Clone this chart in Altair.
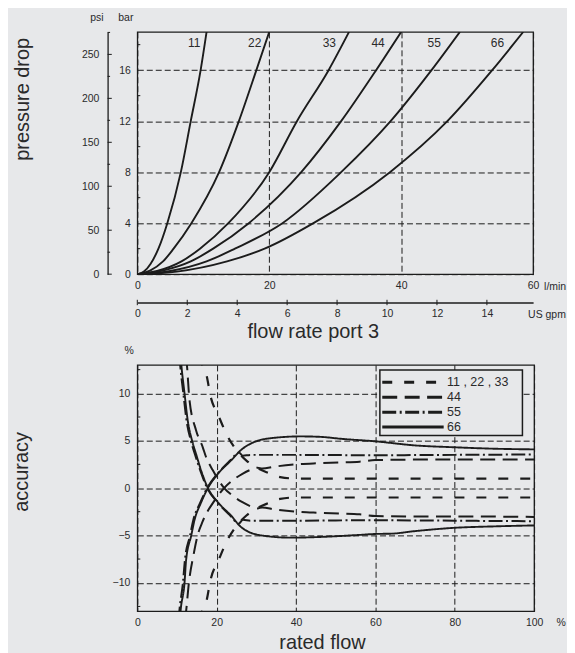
import altair as alt
import pandas as pd

BG = "#e7e8ea"
INK = "#1c1c1c"
TXT = "#2a2a2a"
FONT = "Liberation Sans"

# ---------------- top panel: pressure drop (bar) vs flow (l/min) ----------------
curve_names = ["11", "22", "33", "44", "55", "66"]
flow_11 = [0, 1.0, 2.0, 3.2, 4.55, 6.6, 8.1, 9.6, 10.5]
dp_11 = [0, 0.2, 0.8, 2, 4, 8, 12, 16, 19]
flow_22 = [0, 2.0, 3.9, 5.5, 8.2, 12.4, 15.4, 18.05, 20.0]
dp_22 = [0, 0.3, 1.0, 2, 4, 8, 12, 16, 19]
flow_33 = [0, 3.0, 6.7, 9.5, 13.8, 20.0, 24.2, 29.0, 32.1]
dp_33 = [0, 0.25, 1.0, 2, 4, 8, 12, 16, 19]
flow_44 = [0, 4.0, 8.1, 11.5, 16.9, 24.85, 30.9, 36.2, 40.0]
dp_44 = [0, 0.3, 1.0, 2, 4, 8, 12, 16, 19]
flow_55 = [0, 5.0, 10.5, 14.8, 22.0, 30.9, 38.4, 44.6, 48.9]
dp_55 = [0, 0.25, 1.0, 2, 4, 8, 12, 16, 19]
flow_66 = [0, 6.0, 13.6, 19.3, 26.7, 38.3, 47.0, 53.8, 58.5]
dp_66 = [0, 0.2, 1.0, 2, 4, 8, 12, 16, 19]

label_flow = [8.64, 17.8, 29.1, 36.5, 45.0, 54.6]
label_dp = [18.1, 18.1, 18.1, 18.1, 18.1, 18.1]

lpm_ticks = [0, 20, 40, 60]
bar_ticks = [0, 4, 8, 12, 16]
bar_minor = [2, 6, 10, 14, 18]
psi_ticks = [0, 50, 100, 150, 200, 250]
psi_minor = [25, 75, 125, 175, 225, 275]
gpm_ticks = [0, 2, 4, 6, 8, 10, 12, 14]

# ---------------- bottom panel: accuracy (%) vs rated flow (%) ----------------
acc_labels = ["11 , 22 , 33", "44", "55", "66"]

s66_up_x = [10.7, 10.9, 11.9, 12.3, 13.6, 14.4, 16.0, 17.8, 20.3, 23.6, 26.1, 29.5, 34.5, 41.2, 46.2, 51.3, 60, 70, 80, 90, 100]
s66_up_y = [-14, -13, -10, -7.6, -5.0, -3.4, -1.6, 0, 1.5, 2.9, 4.0, 4.86, 5.3, 5.45, 5.4, 5.2, 4.93, 4.5, 4.3, 4.15, 4.08]
s66_dn_x = [10.9, 11.1, 11.9, 12.7, 13.8, 14.8, 16.2, 17.8, 20.3, 23.6, 26.1, 31.2, 38.7, 46, 51, 56, 60, 64, 70, 80, 90, 100]
s66_dn_y = [14, 13, 10, 7.15, 5.0, 3.6, 1.7, 0, -1.5, -2.9, -4.1, -5.0, -5.24, -5.17, -5.07, -4.95, -4.85, -4.82, -4.55, -4.2, -4.05, -3.95]

s55_up_x = [10.4, 10.6, 11.5, 12.0, 13.3, 14.1, 15.8, 17.6, 20.2, 23.4, 25.6, 26.6, 28.5, 35, 40, 50, 60, 70, 80, 90, 100]
s55_up_y = [-14, -13, -10, -7.6, -5.0, -3.4, -1.6, 0, 1.5, 2.9, 3.75, 3.4, 3.5, 3.5, 3.5, 3.48, 3.45, 3.48, 3.5, 3.52, 3.55]
s55_dn_x = [10.6, 10.8, 11.6, 12.4, 13.5, 14.5, 16.0, 17.6, 20.2, 23.4, 25.6, 26.6, 28.5, 35, 40, 50, 60, 70, 80, 90, 100]
s55_dn_y = [14, 13, 10, 7.15, 5.0, 3.6, 1.7, 0, -1.5, -2.9, -3.75, -3.35, -3.45, -3.45, -3.45, -3.42, -3.4, -3.42, -3.45, -3.48, -3.5]

s44_up_x = [12.0, 12.3, 13.0, 14.2, 15.2, 16.5, 19.5, 21.9, 24.0, 26.5, 29.0, 30.3, 31.5, 34.5, 40, 46, 51, 56, 60, 70, 80, 100]
s44_up_y = [-14, -13, -10, -7, -5, -3.5, -1.3, 0, 0.8, 1.5, 2.0, 2.15, 2.05, 2.25, 2.5, 2.62, 2.7, 2.78, 2.95, 3.0, 3.0, 3.0]
s44_dn_x = [12.2, 12.5, 13.1, 14.8, 16.5, 17.3, 19.0, 21.9, 24.0, 26.5, 29.0, 30.3, 31.5, 34.5, 40, 46, 51, 56, 60, 70, 80, 100]
s44_dn_y = [14, 13, 9.5, 6.1, 4.3, 3.3, 1.9, 0, -0.8, -1.5, -2.0, -2.15, -2.05, -2.25, -2.5, -2.62, -2.7, -2.78, -2.95, -3.0, -3.0, -3.05]

s11_dn_x = [16.0, 16.3, 17.5, 18.4, 20.5, 22.7, 25.0, 27.5, 30.3, 33, 36, 40, 50, 60, 80, 100]
s11_dn_y = [14, 13, 11.8, 9.8, 7.6, 5.5, 4.0, 2.9, 2.1, 1.6, 1.15, 1.0, 1.0, 1.0, 1.0, 1.0]
s11_up_x = [16.0, 16.3, 17.5, 18.4, 20.5, 22.7, 25.0, 27.5, 30.3, 33, 36, 40, 50, 60, 80, 100]
s11_up_y = [-14, -13, -11.8, -9.8, -7.6, -5.5, -4.0, -2.9, -2.1, -1.6, -1.15, -1.0, -1.0, -1.0, -1.0, -1.0]

pct_ticks = [0, 20, 40, 60, 80, 100]
acc_ticks = [-10, -5, 0, 5, 10]
acc_minor = [-12.5, -7.5, -2.5, 2.5, 7.5, 12.5]

DASH_S = [10, 12]
DASH_L = [15, 7.5]
DASH_DD = [14, 3.5, 2, 3.5]

# ---------------- helpers ----------------
def series(name, xs, ys):
    return pd.DataFrame({"x": xs, "y": ys, "s": name})


def note(text, x, y, size=10.5, angle=0, align="center"):
    return alt.Chart(pd.DataFrame({"t": [text]})).mark_text(
        font=FONT, fontSize=size, color=TXT, angle=angle, align=align, baseline="middle"
    ).encode(x=alt.value(x), y=alt.value(y), text="t:N")


# ---------------- top chart ----------------
W1, H1 = 397, 243
lpm_sc = alt.Scale(domain=[0, 60], nice=False)
bar_sc = alt.Scale(domain=[0, 19], nice=False)
psi_sc = alt.Scale(domain=[0, 19 * 14.5038], nice=False)
gpm_sc = alt.Scale(domain=[0, 60 / 3.78541], nice=False)

top_df = pd.concat([
    series("11", flow_11, dp_11), series("22", flow_22, dp_22), series("33", flow_33, dp_33),
    series("44", flow_44, dp_44), series("55", flow_55, dp_55), series("66", flow_66, dp_66),
])

top_curves = alt.Chart(top_df).mark_line(clip=True, color=INK, strokeWidth=1.9, interpolate="monotone").encode(
    x=alt.X("x:Q", scale=lpm_sc, axis=alt.Axis(orient="bottom", values=lpm_ticks, grid=True, ticks=False,
                                               domain=False, labelPadding=11.7, labelBaseline="middle", title=None)),
    y=alt.Y("y:Q", scale=bar_sc, axis=alt.Axis(orient="left", values=bar_ticks, grid=True, ticks=False,
                                               domain=False, labelPadding=7, title=None)),
    detail="s:N",
)

top_labels = alt.Chart(pd.DataFrame({"x": label_flow, "y": label_dp, "t": curve_names})).mark_text(
    font=FONT, fontSize=12, color=TXT
).encode(
    x=alt.X("x:Q", scale=lpm_sc, axis=None),
    y=alt.Y("y:Q", scale=bar_sc, axis=None),
    text="t:N",
)

bar_minor_ticks = alt.Chart(pd.DataFrame({"v": bar_minor})).mark_rule(color=INK, strokeWidth=1).encode(
    y=alt.Y("v:Q", scale=bar_sc, axis=None), x=alt.value(0), x2=alt.value(3)
)

psi_major = alt.Chart(pd.DataFrame({"v": psi_ticks})).mark_rule(color=INK, strokeWidth=1).encode(
    y=alt.Y("v:Q", scale=psi_sc, axis=alt.Axis(orient="left", offset=29.8, values=psi_ticks, ticks=False,
                                               grid=False, domain=True, domainColor=INK, domainWidth=1.3,
                                               labelPadding=8.7, title=None)),
    x=alt.value(-29.8), x2=alt.value(-25.6),
)
psi_minor_ticks = alt.Chart(pd.DataFrame({"v": psi_minor})).mark_rule(color=INK, strokeWidth=1).encode(
    y=alt.Y("v:Q", scale=psi_sc, axis=None), x=alt.value(-29.8), x2=alt.value(-27.3)
)

gpm_axis = alt.Chart(pd.DataFrame({"v": gpm_ticks})).mark_rule(color=INK, strokeWidth=1).encode(
    x=alt.X("v:Q", scale=gpm_sc, axis=alt.Axis(orient="bottom", offset=28.4, values=gpm_ticks, ticks=False,
                                               grid=False, domain=True, domainColor=INK, domainWidth=1.3,
                                               labelPadding=10.6, labelBaseline="middle", title=None)),
    y=alt.value(H1 + 28.4 - 2.7), y2=alt.value(H1 + 28.4 + 2.7),
)

top = alt.layer(
    top_curves, top_labels, bar_minor_ticks, psi_major, psi_minor_ticks, gpm_axis,
    note("psi", -40.5, -14), note("bar", -11.5, -14),
    note("l/min", 408.0, 256, align="left"), note("US gpm", 392.0, 283.6, align="left"),
    note("flow rate port 3", 176.5, 301, size=20),
    note("pressure drop", -115.1, 67.6, size=20, angle=270),
).resolve_scale(x="independent", y="independent").properties(width=W1, height=H1)

# ---------------- bottom chart ----------------
W2, H2 = 398, 247
pct_sc = alt.Scale(domain=[0, 100], nice=False)
acc_sc = alt.Scale(domain=[-13, 13], nice=False)
ax_pct = alt.Axis(orient="bottom", values=pct_ticks, grid=True, ticks=False, domain=False,
                  labelPadding=11.3, labelBaseline="middle", title=None)
ax_acc = alt.Axis(orient="left", values=acc_ticks, grid=True, ticks=False, domain=False,
                  labelPadding=7.5, title=None)


def acc_layer(df, dash, width):
    return alt.Chart(df).mark_line(clip=True, color=INK, strokeWidth=width, strokeDash=dash,
                                   interpolate="monotone").encode(
        x=alt.X("x:Q", scale=pct_sc, axis=ax_pct),
        y=alt.Y("y:Q", scale=acc_sc, axis=ax_acc),
        detail="s:N",
    )


l66 = acc_layer(pd.concat([series("u", s66_up_x, s66_up_y), series("d", s66_dn_x, s66_dn_y)]), [1, 0], 1.9)
l55 = acc_layer(pd.concat([series("u", s55_up_x, s55_up_y), series("d", s55_dn_x, s55_dn_y)]), DASH_DD, 2.0)
l44 = acc_layer(pd.concat([series("u", s44_up_x, s44_up_y), series("d", s44_dn_x, s44_dn_y)]), DASH_L, 2.0)
l11 = acc_layer(pd.concat([series("u", s11_up_x, s11_up_y), series("d", s11_dn_x, s11_dn_y)]), DASH_S, 2.2)

acc_minor_ticks = alt.Chart(pd.DataFrame({"y": acc_minor})).mark_rule(color=INK, strokeWidth=1).encode(
    y=alt.Y("y:Q", scale=acc_sc, axis=ax_acc), x=alt.value(0), x2=alt.value(3)
)

legend_box = alt.Chart(pd.DataFrame({"t": ["box"]})).mark_rect(fill=BG, stroke=INK, strokeWidth=1.5).encode(
    x=alt.value(243.3), x2=alt.value(386.3), y=alt.value(5), y2=alt.value(70.7)
)
legend_dashes = [DASH_S, DASH_L, DASH_DD, [1, 0]]
legend_layers = [legend_box]
for i, (lab, dash) in enumerate(zip(acc_labels, legend_dashes)):
    yy = 17.4 + 15 * i
    legend_layers.append(
        alt.Chart(pd.DataFrame({"t": [lab]})).mark_rule(color=INK, strokeWidth=3, strokeDash=dash).encode(
            x=alt.value(245.7), x2=alt.value(307.3), y=alt.value(yy)
        )
    )
    legend_layers.append(note(lab, 310.7, yy, size=12.5, align="left"))

bottom = alt.layer(
    l11, l44, l55, l66, acc_minor_ticks, *legend_layers,
    note("%", -8.3, -13.6), note("%", 425.0, 258.7),
    note("rated flow", 185.7, 278.7, size=20),
    note("accuracy", -115.6, 107.4, size=20, angle=270),
).properties(width=W2, height=H2)

chart = alt.vconcat(top, bottom, spacing=91).properties(
    bounds="flush", background=BG, padding={"left": 2.7, "top": 3, "right": 0, "bottom": 0}
).configure_view(stroke=INK, strokeWidth=1.3).configure_axis(
    labelFont=FONT, labelFontSize=10.5, labelColor=TXT, labelFlush=False, labelOverlap=False,
    gridColor=INK, gridDash=[6, 3], gridWidth=1, gridOpacity=1,
)

chart.save("out.html", embed_options={"renderer": "svg", "actions": False})
